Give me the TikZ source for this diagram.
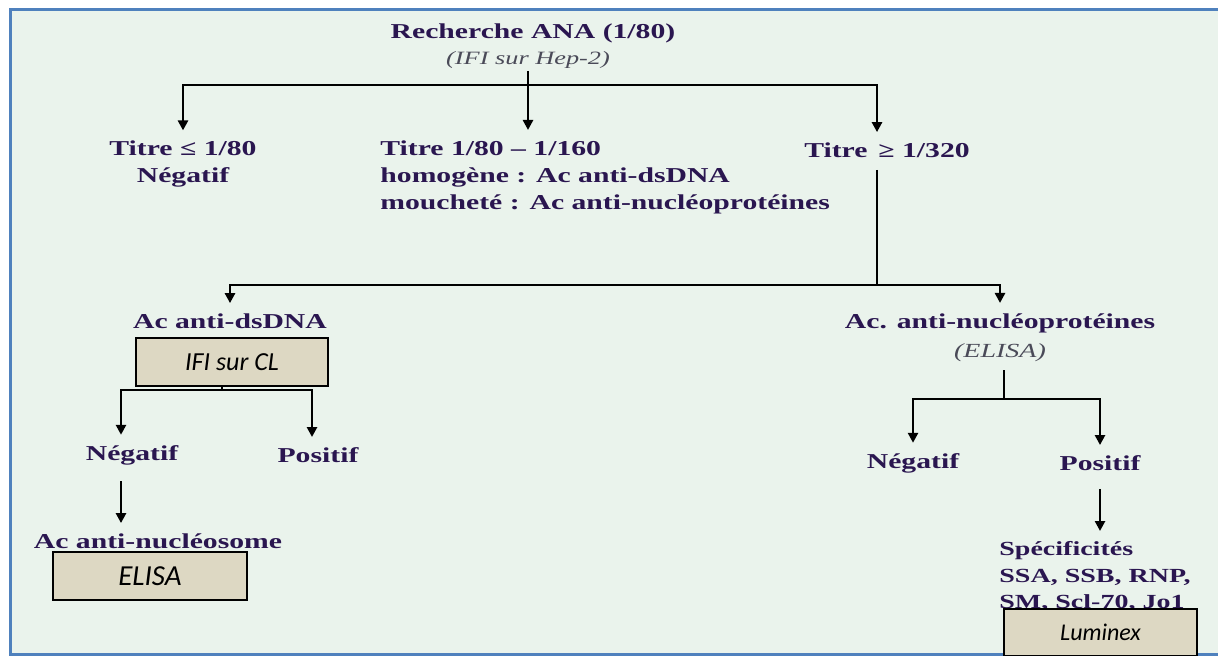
\documentclass[tikz,border=0pt]{standalone}
\usepackage{fontspec}
\usetikzlibrary{arrows.meta,positioning}
\newfontfamily\wideserif[FakeStretch=1.4]{Liberation Serif}
\newfontfamily\boxsans{Carlito}
\definecolor{bggreen}{HTML}{EAF3EC}
\definecolor{frameblue}{HTML}{4F81BD}
\definecolor{inkpurple}{HTML}{2A1650}
\definecolor{notegray}{HTML}{4A4A58}
\definecolor{boxbeige}{HTML}{DDD8C3}

\begin{document}
\begin{tikzpicture}[x=0.5pt,y=-0.5pt,
    txt/.style={text=inkpurple, font=\wideserif\bfseries\fontsize{10.6}{13.5}\selectfont, inner sep=2pt, align=center},
    ttl/.style={txt, font=\wideserif\bfseries\fontsize{10.6}{12}\selectfont},
    note/.style={text=notegray, font=\wideserif\itshape\fontsize{9.4}{11}\selectfont, inner sep=1pt},
    testbox/.style={draw=black, line width=1pt, fill=boxbeige, minimum width=96pt, minimum height=24pt, inner sep=0pt, font=\boxsans\itshape\fontsize{#1}{#1}\selectfont},
    link/.style={line width=1.3pt},
    arr/.style={link, -{Triangle[width=5pt,length=5pt]}, shorten >=3pt}]
    \useasboundingbox (0,0) rectangle (1218,656);

    % background and frame
    \fill[bggreen] (10,10) rectangle (1218,654);
    \draw[frameblue, line width=1.5pt] (1218,10) -- (10,10) -- (10,654) -- (1218,654);

    % top
    \node[ttl] (ana) at (533,33) {Recherche ANA (1/80)};
    \node[note] (hep) at (528,60) {(IFI sur Hep-2)};

    % titres
    \node[txt] (t1) at (183,164) {Titre ≤ 1/80\\Négatif};
    \node[txt, align=left, anchor=west] (t2) at (376,177) {Titre 1/80 – 1/160\\homogène : Ac anti-dsDNA\\moucheté : Ac anti-nucléoprotéines};
    \node[txt] (t3) at (887,150) {Titre \,≥ 1/320};

    % branch dsDNA
    \node[txt] (dna) at (230,321) {Ac anti-dsDNA};
    \node[testbox=13] (cl) at (232,362) {IFI sur CL};
    \node[txt] (neg1) at (132,455) {Négatif};
    \node[txt] (pos1) at (318,455) {Positif};
    \node[txt] (nsm) at (158,541) {Ac anti-nucléosome};
    \node[testbox=14.5, minimum width=97pt] (eli1) at (150,576) {ELISA};

    % branch nucleoproteines
    \node[txt] (nuc) at (1000,323) {Ac. anti-nucléoprotéines};
    \node[note, font=\wideserif\itshape\fontsize{10}{12}\selectfont] (eli2) at (1000,353) {(ELISA)};
    \node[txt] (neg2) at (913,463) {Négatif};
    \node[txt] (pos2) at (1100,463) {Positif};
    \node[txt, align=left, anchor=north west, font=\wideserif\bfseries\fontsize{10}{13.3}\selectfont] (spec) at (995,537) {Spécificités\\SSA, SSB, RNP,\\SM, Scl-70, Jo1};
    \node[testbox=12, minimum width=96.5pt, minimum height=23.5pt] (lum) at (1100.5,632.5) {Luminex};

    % split points
    \coordinate (s1) at (182,85);
    \coordinate (s2) at (528,85);
    \coordinate (s3) at (877,85);
    \coordinate (s4) at (877,285);
    \coordinate (s6) at (222,390);
    \coordinate (s7) at (121,390);
    \coordinate (s8) at (312,390);
    \coordinate (s9) at (1004,399);

    % arrows level 1
    \draw[link] (hep.south) -- (s2);
    \draw[arr] (s2) -| (t1.north);
    \draw[arr] (s2) -- (s2 |- t2.north);
    \draw[arr] (s2) -| (s3 |- t3.north);

    % arrows level 2
    \draw[link, shorten <=4pt] (t3.south -| s3) -- (s4);
    \draw[arr] (s4) -| (dna.north);
    \draw[arr] (s4) -| (nuc.north);

    % left tree
    \draw[link] (cl.south -| s6) -- (s6);
    \draw[arr] (s6) -| (s7 |- neg1.north);
    \draw[arr] (s6) -| (s8 |- pos1.north);
    \draw[arr, shorten <=6pt] (neg1.south -| s7) -- (s7 |- nsm.north);

    % right tree
    \draw[link, shorten <=3pt] (eli2.south -| s9) -- (s9);
    \draw[arr] (s9) -| (neg2.north);
    \draw[arr] (s9) -| (pos2.north);
    \draw[arr, shorten <=7pt] (pos2.south) -- (pos2.south |- spec.north);
\end{tikzpicture}
\end{document}
